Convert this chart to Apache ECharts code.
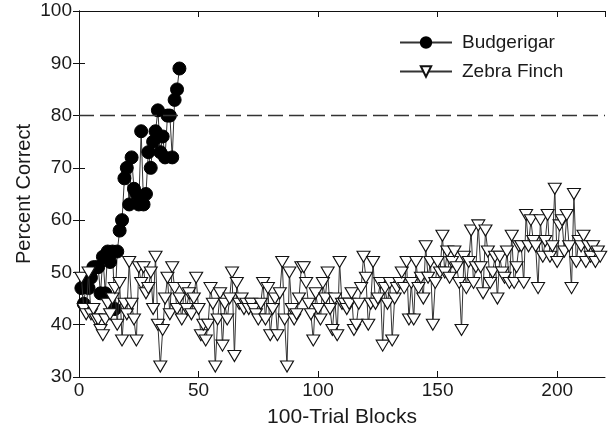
<!DOCTYPE html>
<html>
<head>
<meta charset="utf-8">
<script src="https://cdn.jsdelivr.net/npm/echarts@6/dist/echarts.min.js"></script>
<style>
html,body{margin:0;padding:0;background:#fff;}
#chart{width:608px;height:435px;}
</style>
</head>
<body>
<div id="chart"></div>
<script>
// Percent correct per 100-trial block (block numbers start at 1)
var budgerigar = [47,44,48,47,49,51,51,51,46,53,46,54,52,54,43,54,58,60,68,70,
  63,72,66,65,63,77,63,65,73,70,75,77,81,73,76,72,80,80,72,83,85,89];
var zebraFinch = [49,43,42,50,42,43,41,41,39,38,41,44,42,45,47,40,48,37,44,42,
  52,44,41,37,51,48,51,46,47,50,43,53,40,32,39,45,49,42,51,47,
  43,45,41,47,43,46,42,45,49,43,38,40,37,40,47,44,32,41,46,36,
  44,41,45,50,34,48,44,45,43,44,43,44,43,42,41,44,48,41,47,38,
  43,45,38,46,52,41,32,50,43,41,42,45,51,51,48,44,42,37,46,43,
  41,48,45,50,43,39,45,38,52,44,44,43,44,46,39,40,44,47,53,49,
  40,44,52,44,45,48,36,47,44,48,37,45,47,48,50,47,52,41,48,41,
  52,47,49,45,55,49,52,40,48,52,50,57,50,54,49,52,54,51,48,39,
  53,47,52,58,48,51,59,51,46,58,54,48,50,53,45,53,50,49,54,48,
  57,48,51,55,55,48,61,55,60,56,55,47,60,53,56,61,53,55,66,52,
  59,60,54,61,55,47,65,52,56,55,57,52,55,53,55,52,54,53];
var criterion = 80;
var xTicks = {min: 0, max: 220, interval: 50};
var yTicks = {min: 30, max: 100, interval: 10};
var seriesNames = ['Budgerigar', 'Zebra Finch'];
var xTitle = '100-Trial Blocks';
var yTitle = 'Percent Correct';

function toPoints(arr){ return arr.map(function(v,i){ return [i+1, v]; }); }

var font = 'Liberation Sans, Arial, sans-serif';
var txt = '#1a1a1a';
var chart = echarts.init(document.getElementById('chart'), null, {renderer:'canvas'});
var axisLine = {show:true, lineStyle:{color:'#111', width:1}};
var tickIn = {show:true, inside:true, length:6, lineStyle:{color:'#111', width:1}};
chart.setOption({
  animation:false,
  backgroundColor:'#fff',
  grid:{left:79, right:3, top:11, bottom:58},
  legend:{
    data: seriesNames,
    orient:'vertical', left:399, top:33, padding:0,
    itemWidth:52, itemHeight:13, itemGap:10,
    textStyle:{fontFamily:font, fontSize:19, color:txt, padding:[0,0,0,5]}
  },
  xAxis:[{
    type:'value', min:xTicks.min, max:xTicks.max, interval:xTicks.interval,
    name:xTitle, nameLocation:'middle', nameGap:30,
    nameTextStyle:{fontFamily:font, fontSize:21, color:txt},
    axisLine:axisLine, axisTick:tickIn, splitLine:{show:false},
    axisLabel:{fontFamily:font, fontSize:19, color:txt, margin:4, showMaxLabel:false}
  },{
    type:'value', position:'top', min:xTicks.min, max:xTicks.max, interval:xTicks.interval,
    axisLine:axisLine, axisTick:tickIn, splitLine:{show:false}, axisLabel:{show:false}
  }],
  yAxis:[{
    type:'value', min:yTicks.min, max:yTicks.max, interval:yTicks.interval,
    name:yTitle, nameLocation:'middle', nameGap:45, nameMoveOverlap:false,
    nameTextStyle:{fontFamily:font, fontSize:20, color:txt},
    axisLine:axisLine, axisTick:tickIn, splitLine:{show:false},
    axisLabel:{fontFamily:font, fontSize:19, color:txt, margin:7}
  },{
    type:'value', position:'right', min:yTicks.min, max:yTicks.max, interval:yTicks.interval,
    axisLine:axisLine, axisTick:tickIn, splitLine:{show:false}, axisLabel:{show:false}
  }],
  series:[{
    name:seriesNames[0], type:'line', data:toPoints(budgerigar),
    symbol:'circle', symbolSize:13,
    itemStyle:{color:'#000', borderColor:'#000', borderWidth:1},
    lineStyle:{color:'#333', width:1},
    z:2,
    markLine:{
      silent:true, symbol:'none', label:{show:false},
      lineStyle:{color:'#333', type:[15,6], width:1.3},
      data:[{yAxis:criterion}]
    }
  },{
    name:seriesNames[1], type:'line', data:toPoints(zebraFinch),
    symbol:'triangle', symbolRotate:180, symbolSize:[13,11],
    itemStyle:{color:'#fff', borderColor:'#111', borderWidth:1.1},
    lineStyle:{color:'#333', width:1},
    z:3
  }]
});
</script>
</body>
</html>
